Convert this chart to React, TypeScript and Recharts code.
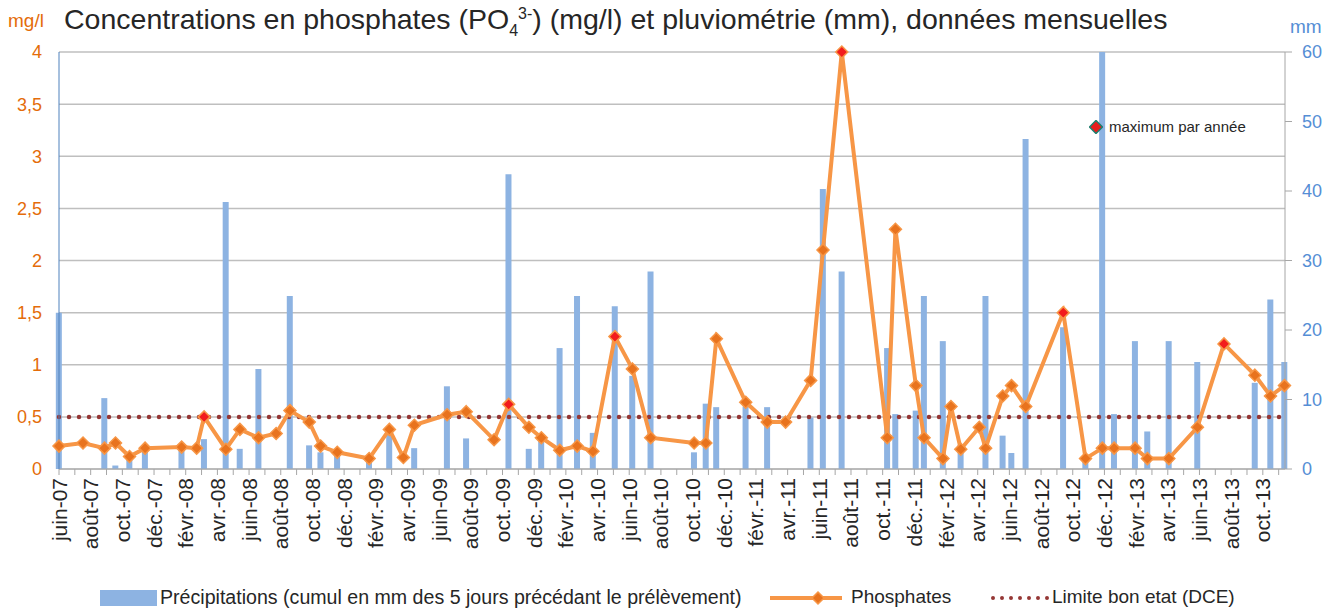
import React from "react";
import { ComposedChart, Bar, Line, XAxis, YAxis, CartesianGrid, ReferenceLine } from "recharts";

// sampling dates (one precipitation + one phosphate value per sample)
const sampleDates = [
  "2007-06-01", "2007-07-17", "2007-08-28", "2007-09-18", "2007-10-15", "2007-11-14",
  "2008-01-24", "2008-02-21", "2008-03-06", "2008-04-17", "2008-05-14", "2008-06-19", "2008-07-23", "2008-08-19", "2008-09-25", "2008-10-17", "2008-11-18",
  "2009-01-19", "2009-02-25", "2009-03-24", "2009-04-14", "2009-06-16", "2009-07-23", "2009-09-15", "2009-10-13", "2009-11-21", "2009-12-15",
  "2010-01-20", "2010-02-21", "2010-03-23", "2010-05-04", "2010-06-07", "2010-07-12", "2010-10-04", "2010-10-27", "2010-11-16",
  "2011-01-12", "2011-02-21", "2011-03-28", "2011-05-15", "2011-06-08", "2011-07-14", "2011-10-10", "2011-10-26", "2011-12-04", "2011-12-20",
  "2012-01-26", "2012-02-10", "2012-02-28", "2012-04-04", "2012-04-16", "2012-05-19", "2012-06-05", "2012-07-02", "2012-09-13", "2012-10-26", "2012-11-27", "2012-12-20",
  "2013-01-30", "2013-02-21", "2013-04-03", "2013-05-28", "2013-07-18", "2013-09-16", "2013-10-16", "2013-11-12",
];

// mg/l
const phosphates = [
  0.22, 0.25, 0.2, 0.25, 0.12, 0.2,
  0.21, 0.2, 0.5, 0.19, 0.38, 0.3, 0.34, 0.56, 0.45, 0.22, 0.16,
  0.1, 0.38, 0.11, 0.42, 0.52, 0.55, 0.28, 0.62, 0.4, 0.3,
  0.18, 0.22, 0.17, 1.27, 0.96, 0.3, 0.25, 0.25, 1.25,
  0.64, 0.45, 0.45, 0.85, 2.1, 4.0, 0.3, 2.3, 0.8, 0.3,
  0.1, 0.6, 0.19, 0.4, 0.2, 0.7, 0.8, 0.6, 1.5, 0.1, 0.2, 0.2,
  0.2, 0.1, 0.1, 0.4, 1.2, 0.9, 0.7, 0.8,
];

// mm, cumul des 5 jours précédant le prélèvement
const precipitations = [
  22.5, 0, 10.2, 0.5, 1.8, 3.2,
  3.4, 0, 4.3, 38.4, 2.9, 14.4, 0, 24.9, 3.4, 2.4, 2.5,
  1.8, 5.5, 0, 3.0, 11.9, 4.4, 0, 42.4, 2.9, 4.0,
  17.4, 24.9, 5.2, 23.4, 13.4, 28.4, 2.4, 9.4, 8.9,
  9.0, 8.9, 0, 7.4, 40.3, 28.4, 17.4, 7.9, 8.4, 24.9,
  18.4, 0, 3.5, 0, 24.9, 4.8, 2.3, 47.5, 20.4, 1.2, 60, 7.9,
  18.4, 5.4, 18.4, 15.4, 0, 12.4, 24.4, 15.4,
];

const yearMaxDates = ["2008-03-06", "2009-10-13", "2010-05-04", "2011-07-14", "2012-09-13", "2013-07-18"];
const limiteDCE = 0.5;

const monthLabels = ["janv.", "févr.", "mars", "avr.", "mai", "juin", "juil.", "août", "sept.", "oct.", "nov.", "déc."];
const phosphateTicks = [0, 0.5, 1, 1.5, 2, 2.5, 3, 3.5, 4];
const pluvioTicks = [0, 10, 20, 30, 40, 50, 60];

const START_YEAR = 2007;
const START_MONTH = 6;
const AXIS_END = 77.4;
const monthTicks = Array.from({ length: 78 }, (_, i) => i);

function monthIndex(d: string) {
  const [y, m, day] = d.split("-").map(Number);
  const dim = new Date(y, m, 0).getDate();
  return (y - START_YEAR) * 12 + (m - START_MONTH) + (day - 1) / dim;
}

function monthName(i: number) {
  const k = START_MONTH - 1 + i;
  const yy = (START_YEAR + Math.floor(k / 12)) % 100;
  return monthLabels[k % 12] + "-" + String(yy).padStart(2, "0");
}

const data = sampleDates.map((d, i) => ({
  x: monthIndex(d),
  p: phosphates[i],
  r: precipitations[i],
  max: yearMaxDates.includes(d),
}));

const ORANGE = "#F79646";
const ORANGE_DARK = "#E8731E";
const BLUE_BAR = "#8DB3E2";
const BLUE_TXT = "#558ED5";
const TICK_ORANGE = "#E46C0A";
const DOTS = "#953735";

const MonthTick = (props: any) => {
  const { x, y, payload } = props;
  const i = payload.value;
  if (i % 2 !== 0) return <g />;
  return (
    <text
      x={x}
      y={y}
      transform={`rotate(-90, ${x}, ${y})`}
      textAnchor="end"
      dominantBaseline="central"
      fontSize={21}
      fill="#262626"
    >
      {monthName(i)}
    </text>
  );
};

const Diamond = (props: any) => {
  const { cx, cy, payload } = props;
  if (cx == null || cy == null) return <g />;
  const s = 6;
  return (
    <polygon
      points={`${cx},${cy - s} ${cx + s},${cy} ${cx},${cy + s} ${cx - s},${cy}`}
      fill={payload.max ? "#F21C1C" : ORANGE_DARK}
      stroke={ORANGE}
      strokeWidth={1.5}
    />
  );
};

export default function App() {
  return (
    <div style={{ position: "relative", width: 1324, height: 608, fontFamily: "'Liberation Sans', Arial, sans-serif" }}>
      <style>{`body { margin: 0; }`}</style>
      <div style={{ position: "absolute", left: 8, top: 10, fontSize: 19, color: TICK_ORANGE }}>mg/l</div>
      <div style={{ position: "absolute", left: 1290, top: 16, fontSize: 19, color: BLUE_TXT }}>mm</div>
      <div
        style={{
          position: "absolute",
          left: 64,
          top: 3,
          fontSize: 28.5,
          color: "#262626",
          whiteSpace: "nowrap",
        }}
      >
        Concentrations en phosphates (PO<sub style={{ fontSize: 16 }}>4</sub>
        <sup style={{ fontSize: 16 }}>3-</sup>) (mg/l) et pluviométrie (mm), données mensuelles
      </div>

      <ComposedChart width={1324} height={608} data={data} margin={{ top: 52, right: 8, bottom: 39, left: 14 }}>
        <CartesianGrid yAxisId="p" vertical={false} stroke="#BFBFBF" strokeWidth={1.5} />
        <XAxis
          dataKey="x"
          type="number"
          scale="linear"
          domain={[0, AXIS_END]}
          ticks={monthTicks}
          interval={0}
          tick={<MonthTick />}
          tickSize={6}
          tickMargin={3}
          height={100}
          stroke="#A6A6A6"
          allowDecimals
        />
        <YAxis
          yAxisId="p"
          orientation="left"
          domain={[0, 4]}
          ticks={phosphateTicks}
          tickFormatter={(v: number) => String(v).replace(".", ",")}
          width={45}
          tickLine={false}
          tickSize={8}
          tickMargin={9}
          axisLine={{ stroke: "#4F81BD" }}
          tick={{ fill: TICK_ORANGE, fontSize: 18 }}
        />
        <YAxis
          yAxisId="r"
          orientation="right"
          domain={[0, 60]}
          ticks={pluvioTicks}
          width={31}
          tickSize={7}
          tickMargin={10}
          allowDataOverflow
          axisLine={{ stroke: "#A6A6A6" }}
          tickLine={{ stroke: "#A6A6A6" }}
          tick={{ fill: BLUE_TXT, fontSize: 18, textAnchor: "start" }}
        />
        <Bar yAxisId="r" dataKey="r" fill={BLUE_BAR} barSize={6} isAnimationActive={false} />
        <ReferenceLine
          yAxisId="p"
          y={limiteDCE}
          stroke={DOTS}
          strokeWidth={4.5}
          strokeDasharray="0 10"
          strokeLinecap="round"
        />
        <Line
          yAxisId="p"
          dataKey="p"
          type="linear"
          stroke={ORANGE}
          strokeWidth={4}
          dot={<Diamond />}
          activeDot={false}
          isAnimationActive={false}
        />
      </ComposedChart>

      {/* annotation */}
      <svg style={{ position: "absolute", left: 1089, top: 120 }} width={14} height={14}>
        <polygon points="7,0.5 13.5,7 7,13.5 0.5,7" fill="#E81E1E" stroke="#1E7F6E" strokeWidth={1.5} />
      </svg>
      <div style={{ position: "absolute", left: 1109, top: 118, fontSize: 15, color: "#262626", whiteSpace: "nowrap" }}>
        maximum par année
      </div>

      {/* legend */}
      <div style={{ position: "absolute", left: 100, top: 590, width: 57, height: 16, background: BLUE_BAR }} />
      <div style={{ position: "absolute", left: 160, top: 586, fontSize: 19.6, color: "#262626", whiteSpace: "nowrap" }}>
        Précipitations (cumul en mm des 5 jours précédant le prélèvement)
      </div>
      <svg style={{ position: "absolute", left: 768, top: 590 }} width={76} height={16}>
        <line x1={2} y1={8} x2={74} y2={8} stroke={ORANGE} strokeWidth={4} />
        <polygon points="50,2 56,8 50,14 44,8" fill={ORANGE_DARK} stroke={ORANGE} strokeWidth={1.5} />
      </svg>
      <div style={{ position: "absolute", left: 851, top: 586, fontSize: 19, color: "#262626" }}>Phosphates</div>
      <svg style={{ position: "absolute", left: 990, top: 590 }} width={60} height={16}>
        <line x1={3} y1={8} x2={58} y2={8} stroke={DOTS} strokeWidth={4} strokeDasharray="0 9" strokeLinecap="round" />
      </svg>
      <div style={{ position: "absolute", left: 1052, top: 586, fontSize: 19, color: "#262626", whiteSpace: "nowrap" }}>
        Limite bon etat (DCE)
      </div>
    </div>
  );
}
